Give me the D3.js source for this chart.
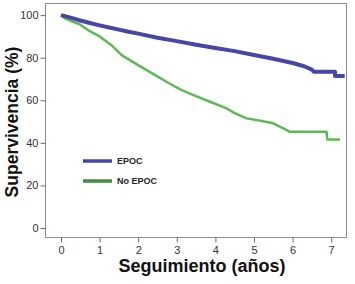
<!DOCTYPE html>
<html>
<head>
<meta charset="utf-8">
<script src="https://cdn.jsdelivr.net/npm/d3@7"></script>
<style>
  body { margin: 0; background: #fff; }
  svg { font-family: "Liberation Sans", Arial, sans-serif; }
</style>
</head>
<body>
<svg width="355" height="284"></svg>
<script>
// survival curves: [years, %]
const epoc = [[0,100],[0.25,98.8],[0.5,97.5],[0.75,96.3],[1,95.2],[1.25,94.2],[1.5,93.2],[1.75,92.2],[2,91.3],
  [2.5,89.4],[3,87.8],[3.5,86.1],[4,84.6],[4.5,83.1],[5,81.3],[5.5,79.5],[6,77.5],[6.3,76],[6.5,74.4],
  [6.55,73.4],[7.1,73.4],[7.1,71.4],[7.35,71.4]]
const noEpoc = [[0,100],[0.1,98.5],[0.3,97],[0.5,95.5],[0.7,93],[1,90],[1.3,86],[1.57,81.2],[2,76.5],
  [2.44,71.8],[2.8,68],[3.1,65],[3.43,62.4],[3.86,59.3],[4.29,56.2],[4.5,54],[4.81,51.5],[5.2,50.3],
  [5.5,49.2],[5.8,46.5],[5.93,45.2],[6.88,45.2],[6.9,41.6],[7.23,41.6]]
const seriesNames = ["EPOC", "No EPOC"]
const xTicks = [0, 1, 2, 3, 4, 5, 6, 7]
const yTicks = [0, 20, 40, 60, 80, 100]

let svg = d3.select("svg"),
    plotLeft = 45, plotRight = 347, plotTop = 3, plotBottom = 238

let x = d3.scaleLinear()
    .domain([-0.415, 7.41])
    .range([plotLeft, plotRight])
let y = d3.scaleLinear()
    .domain([-4.7, 105.7])
    .range([plotBottom, plotTop])

const colors = ["#4646a6", "#5cba55"]
const legendColors = ["#4646a6", "#3f8f3f"]

// frame
svg.append("rect")
    .attr("x", plotLeft + 0.5).attr("y", plotTop + 0.5)
    .attr("width", plotRight - plotLeft - 1).attr("height", plotBottom - plotTop - 1)
    .attr("fill", "none").attr("stroke", "#8a8a8a")

let xAxis = svg.append("g")
    .attr("transform", "translate(0," + (plotBottom - 0.5) + ")")
    .call(d3.axisBottom(x).tickValues(xTicks).tickSize(5).tickPadding(4))
let yAxis = svg.append("g")
    .attr("transform", "translate(" + (plotLeft + 0.5) + ",0)")
    .call(d3.axisLeft(y).tickValues(yTicks).tickSize(5).tickPadding(2))

for (let g of [xAxis, yAxis]) {
    g.select(".domain").remove()
    g.selectAll("line").attr("stroke", "#6a6a6a")
    g.selectAll("text").attr("fill", "#333").style("font-size", "11px")
        .style("font-family", "Liberation Sans, Arial, sans-serif")
}

let line = d3.line()
    .x(d => x(d[0]))
    .y(d => y(d[1]))

svg.append("path").datum(noEpoc)
    .attr("d", line)
    .attr("fill", "none")
    .attr("stroke", colors[1])
    .attr("stroke-width", 2.5)
    .attr("stroke-linejoin", "round")

svg.append("path").datum(epoc)
    .attr("d", line)
    .attr("fill", "none")
    .attr("stroke", colors[0])
    .attr("stroke-width", 4)
    .attr("stroke-linejoin", "round")

// legend
seriesNames.forEach(function (name, i) {
    svg.append("line")
        .attr("x1", 83).attr("x2", 112)
        .attr("y1", 161 + i * 20).attr("y2", 161 + i * 20)
        .attr("stroke", legendColors[i])
        .attr("stroke-width", 3.5)
    svg.append("text")
        .attr("x", 117).attr("y", 161 + i * 20)
        .attr("dy", "0.35em")
        .attr("fill", "#222")
        .style("font-size", "9px")
        .style("font-weight", "bold")
        .text(name)
})

// axis titles
svg.append("text")
    .attr("transform", "translate(18,122) rotate(-90)")
    .attr("text-anchor", "middle")
    .attr("fill", "#111")
    .style("font-size", "17.5px")
    .style("font-weight", "bold")
    .text("Supervivencia (%)")

svg.append("text")
    .attr("x", 202).attr("y", 272)
    .attr("text-anchor", "middle")
    .attr("fill", "#111")
    .style("font-size", "18px")
    .style("font-weight", "bold")
    .text("Seguimiento (años)")
</script>
</body>
</html>
